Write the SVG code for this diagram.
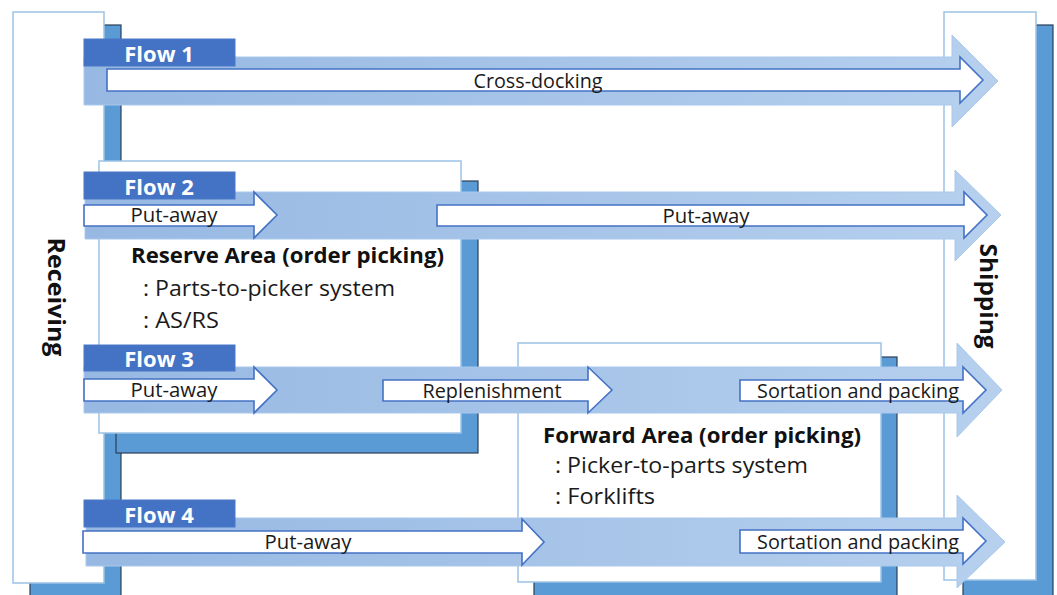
<svg xmlns="http://www.w3.org/2000/svg" width="1057" height="595" viewBox="0 0 1057 595">
<defs>
<linearGradient id="flowGrad" gradientUnits="userSpaceOnUse" x1="84" y1="0" x2="1005" y2="0">
<stop offset="0" stop-color="#96B8E2"/>
<stop offset="1" stop-color="#B6D0EE"/>
</linearGradient>
<style>
.box{fill:#FFFFFF;stroke:#9DC3E6;stroke-width:1.5}
.shadow{fill:#5B9BD5;stroke:#2B3F57;stroke-width:1.2}
.big{fill:url(#flowGrad);stroke:#A9C8EC;stroke-width:1}
.inner{fill:#FFFFFF;stroke:#4472C4;stroke-width:1.6}
.tag{fill:#4472C4;stroke:#4A78C8;stroke-width:1}
.tagtxt{font-family:"Open Sans","Noto Sans",sans-serif;font-weight:bold;font-size:22px;fill:#FFFFFF;text-anchor:middle}
.side{font-family:"Open Sans","Noto Sans",sans-serif;font-weight:bold;font-size:24px;fill:#111111;text-anchor:middle}
.lbl{font-family:"Open Sans","Noto Sans",sans-serif;font-size:20px;fill:#1A1A1A;text-anchor:middle}
.title{font-family:"Open Sans","Noto Sans",sans-serif;font-weight:bold;font-size:21px;fill:#111111}
.body{font-family:"Open Sans","Noto Sans",sans-serif;font-size:22px;fill:#1A1A1A}
</style>
</defs>
<rect width="1057" height="595" fill="#FFFFFF"/>

<g id="receiving">
<rect class="shadow" x="30" y="25" width="91" height="580"/>
<rect class="box" x="13" y="12" width="91" height="571"/>
<text class="side" transform="translate(48,297) rotate(90)" textLength="119" lengthAdjust="spacingAndGlyphs">Receiving</text>
</g>

<g id="shipping">
<rect class="shadow" x="963" y="25" width="90" height="580"/>
<rect class="box" x="944" y="12" width="92" height="568"/>
<text class="side" transform="translate(980,296) rotate(90)" textLength="105" lengthAdjust="spacingAndGlyphs">Shipping</text>
</g>

<g id="reserve-area">
<rect class="shadow" x="116" y="181" width="362" height="272"/>
<rect class="box" x="99" y="161" width="362" height="272"/>
<text class="title" x="131" y="263" textLength="313" lengthAdjust="spacingAndGlyphs">Reserve Area (order picking)</text>
<text class="body" x="143" y="296" textLength="252" lengthAdjust="spacingAndGlyphs">: Parts-to-picker system</text>
<text class="body" x="143" y="328" textLength="76" lengthAdjust="spacingAndGlyphs">: AS/RS</text>
</g>

<g id="forward-area">
<rect class="shadow" x="534" y="357" width="363" height="250"/>
<rect class="box" x="518" y="343" width="363" height="239"/>
<text class="title" x="543" y="443" textLength="318" lengthAdjust="spacingAndGlyphs">Forward Area (order picking)</text>
<text class="body" x="555" y="473" textLength="253" lengthAdjust="spacingAndGlyphs">: Picker-to-parts system</text>
<text class="body" x="555" y="504" textLength="100" lengthAdjust="spacingAndGlyphs">: Forklifts</text>
</g>

<g id="connectors">
<g id="flow1-arrows">
<polygon class="big" points="84,57 952,57 952,35 998,81 952,127 952,105 84,105"/>
<polygon class="inner" points="107,69 960,69 960,57 983,80 960,103 960,91 107,91"/>
<text class="lbl" x="538" y="88" textLength="129" lengthAdjust="spacingAndGlyphs">Cross-docking</text>
</g>
<g id="flow2-arrows">
<polygon class="big" points="85,192 955,192 955,170 1001,215 955,261 955,239 85,239"/>
<polygon class="inner" points="84,205 254,205 254,192 277,215 254,238 254,226 84,226"/>
<polygon class="inner" points="437,205 964,205 964,192 987,215 964,238 964,226 437,226"/>
<text class="lbl" x="174" y="222" textLength="87" lengthAdjust="spacingAndGlyphs">Put-away</text>
<text class="lbl" x="706" y="223" textLength="87" lengthAdjust="spacingAndGlyphs">Put-away</text>
</g>
<g id="flow3-arrows">
<polygon class="big" points="84,367 957,367 957,343 1002,390 957,437 957,413 84,413"/>
<polygon class="inner" points="84,379 254,379 254,367 277,390 254,413 254,401 84,401"/>
<polygon class="inner" points="383,380 588,380 588,367 612,390 588,413 588,401 383,401"/>
<polygon class="inner" points="740,380 963,380 963,367 986,390 963,413 963,401 740,401"/>
<text class="lbl" x="174" y="397" textLength="87" lengthAdjust="spacingAndGlyphs">Put-away</text>
<text class="lbl" x="492" y="398" textLength="139" lengthAdjust="spacingAndGlyphs">Replenishment</text>
<text class="lbl" x="858" y="398" textLength="202" lengthAdjust="spacingAndGlyphs">Sortation and packing</text>
</g>
<g id="flow4-arrows">
<polygon class="big" points="86,518 957,518 957,495 1005,542 957,588 957,566 86,566"/>
<polygon class="inner" points="83,531 522,531 522,519 544,542 522,565 522,553 83,553"/>
<polygon class="inner" points="740,530 963,530 963,518 986,541 963,564 963,553 740,553"/>
<text class="lbl" x="308" y="549" textLength="87" lengthAdjust="spacingAndGlyphs">Put-away</text>
<text class="lbl" x="858" y="549" textLength="202" lengthAdjust="spacingAndGlyphs">Sortation and packing</text>
</g>
</g>

<g id="flow1">
<rect class="tag" x="84" y="39" width="151" height="27"/>
<text class="tagtxt" x="159" y="62">Flow 1</text>
</g>
<g id="flow2">
<rect class="tag" x="84" y="172" width="151" height="27"/>
<text class="tagtxt" x="159" y="195">Flow 2</text>
</g>
<g id="flow3">
<rect class="tag" x="84" y="345" width="151" height="26"/>
<text class="tagtxt" x="159" y="367">Flow 3</text>
</g>
<g id="flow4">
<rect class="tag" x="84" y="500" width="151" height="27"/>
<text class="tagtxt" x="159" y="523">Flow 4</text>
</g>
</svg>
